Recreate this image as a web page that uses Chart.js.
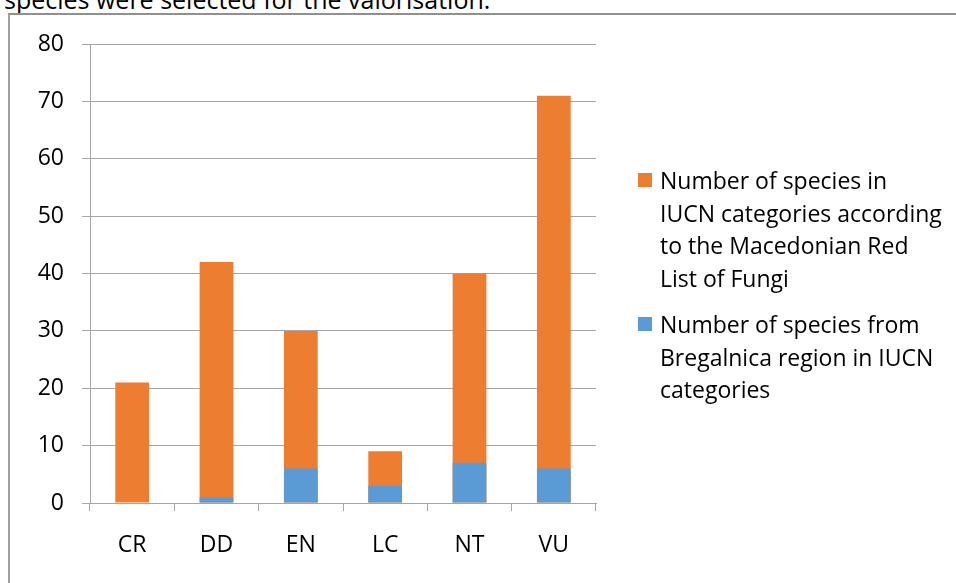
<!DOCTYPE html>
<html>
<head>
<meta charset="utf-8">
<script src="https://cdn.jsdelivr.net/npm/chart.js@4.4.1/dist/chart.umd.min.js"></script>
<style>
  body {
    margin: 0;
    width: 956px;
    height: 583px;
    overflow: hidden;
    background: #fff;
    position: relative;
    font-family: "Open Sans", Lato, sans-serif;
    color: #000;
  }
  .caption {
    position: absolute;
    left: 4px;
    top: -18px;
    font-size: 25px;
    white-space: nowrap;
  }
  .frame {
    position: absolute;
    left: 8px;
    top: 13px;
    width: 980px;
    height: 620px;
    border-left: 2px solid #a0a0a0;
    border-top: 2px solid #909090;
    background: #fff;
  }
  #chart {
    position: absolute;
    left: 0;
    top: 0;
  }
  .legend {
    position: absolute;
    left: 638px;
    font-size: 23px;
    line-height: 32.5px;
  }
  .legend .item {
    position: relative;
    padding-left: 22px;
    margin-bottom: 14px;
  }
  .legend .swatch {
    position: absolute;
    left: 0;
    top: 9px;
    width: 14px;
    height: 14px;
  }
</style>
</head>
<body>
<div class="caption">species were selected for the valorisation.</div>
<div class="frame"></div>
<canvas id="chart" width="956" height="583"></canvas>
<div class="legend" id="legend" style="top:164px"></div>
<script>
const categories = ['CR', 'DD', 'EN', 'LC', 'NT', 'VU'];
const redListCounts = [21, 42, 30, 9, 40, 71];
const bregalnicaCounts = [0, 1, 6, 3, 7, 6];

const redListLabel = ['Number of species in', 'IUCN categories according', 'to the Macedonian Red', 'List of Fungi'];
const bregalnicaLabel = ['Number of species from', 'Bregalnica region in IUCN', 'categories'];

const orange = '#ED7D31';
const blue = '#5B9BD5';
const gridColor = '#a6a6a6';
const fontFamily = '"Open Sans", Lato, sans-serif';

const datasets = [
  {
    label: redListLabel.join(' '),
    data: redListCounts,
    backgroundColor: orange,
    order: 1,
  },
  {
    label: bregalnicaLabel.join(' '),
    data: bregalnicaCounts,
    backgroundColor: blue,
    order: 0,
  },
];

new Chart(document.getElementById('chart'), {
  type: 'bar',
  data: {
    labels: categories,
    datasets: datasets.map((ds) => ({
      ...ds,
      grouped: false,
      categoryPercentage: 0.8,
      barPercentage: 0.5,
      borderWidth: 0,
    })),
  },
  options: {
    responsive: false,
    animation: false,
    layout: {
      padding: { top: 44, left: 0, right: 360, bottom: 0 },
    },
    plugins: {
      legend: { display: false },
      tooltip: { enabled: false },
    },
    scales: {
      x: {
        grid: {
          offset: true,
          drawOnChartArea: false,
          drawTicks: true,
          tickLength: 8,
          color: gridColor,
        },
        border: { color: gridColor },
        ticks: {
          color: '#000',
          padding: 21,
          font: { family: fontFamily, size: 23 },
        },
        afterFit(scale) {
          scale.height = 80;
        },
      },
      y: {
        min: 0,
        max: 80,
        grid: {
          color: gridColor,
          tickLength: 8,
        },
        border: { color: gridColor },
        ticks: {
          stepSize: 10,
          color: '#000',
          padding: 18,
          font: { family: fontFamily, size: 23 },
        },
        afterFit(scale) {
          scale.width = 90;
        },
      },
    },
  },
});

// legend on the right, one block per series
const legend = document.getElementById('legend');
[[orange, redListLabel], [blue, bregalnicaLabel]].forEach(([color, lines]) => {
  const item = document.createElement('div');
  item.className = 'item';
  const swatch = document.createElement('span');
  swatch.className = 'swatch';
  swatch.style.background = color;
  item.appendChild(swatch);
  lines.forEach((line) => {
    const row = document.createElement('div');
    row.textContent = line;
    item.appendChild(row);
  });
  legend.appendChild(item);
});
</script>
</body>
</html>
